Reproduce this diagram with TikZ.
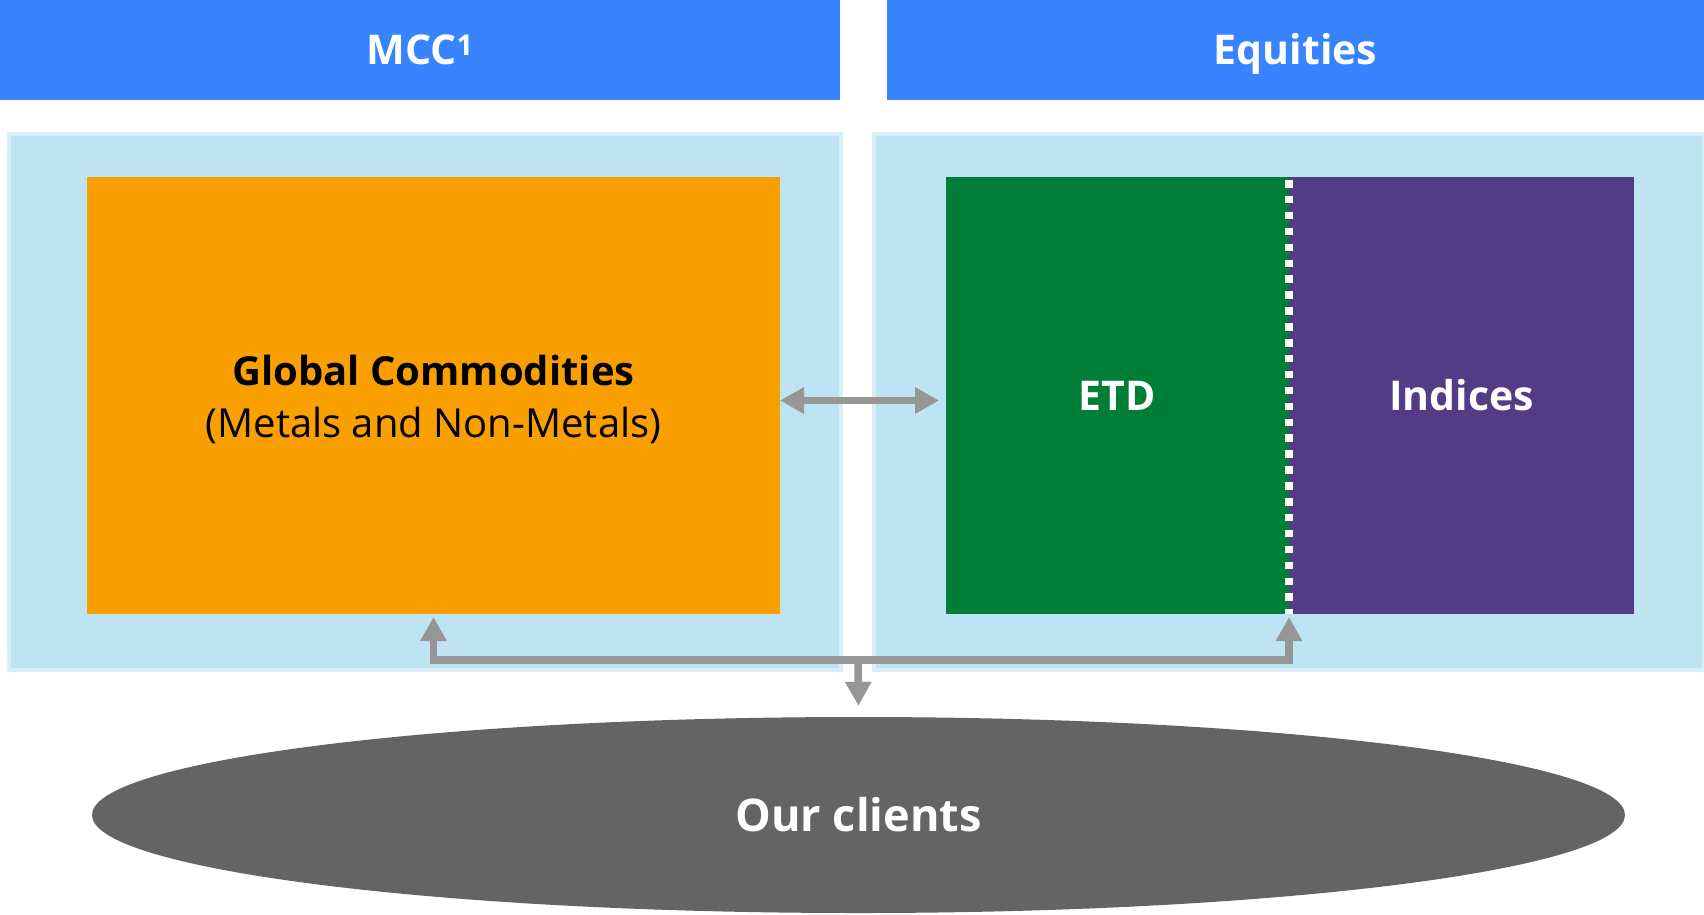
\documentclass[tikz,border=0pt]{standalone}
\usepackage{fontspec}
\setmainfont{Open Sans}
\usetikzlibrary{arrows.meta,shapes.geometric}

\definecolor{hdrblue}{HTML}{3884FF}
\definecolor{panelfill}{HTML}{BEE4F4}
\definecolor{panelrim}{HTML}{D8EEF8}
\definecolor{commod}{HTML}{F9A000}
\definecolor{etdgreen}{HTML}{007E37}
\definecolor{idxpurple}{HTML}{543B85}
\definecolor{arrowgray}{HTML}{969696}
\definecolor{clientgray}{HTML}{646464}

\tikzset{
  box/.style={rectangle, inner sep=0pt, outer sep=0pt},
  header/.style={box, fill=hdrblue, text=white, font=\fontsize{41}{48}\selectfont\bfseries,
    text height=29pt, text depth=0pt},
  panel/.style={box, fill=panelfill, draw=panelrim, line width=4pt},
  unit/.style={box, text=white, font=\fontsize{41}{48}\selectfont\bfseries,
    text height=30.5pt, text depth=-1.5pt},
  flow/.style={draw=arrowgray, line width=7.5pt, line join=miter,
    arrows={-Triangle[length=24pt,width=25pt]}},
  flowboth/.style={flow, arrows={Triangle[length=24pt,width=25pt]-Triangle[length=24pt,width=25pt]}},
  divider/.style={draw=white, line width=8pt, dash pattern=on 7.5pt off 8.4pt, dash phase=-3pt}
}

\begin{document}
\begin{tikzpicture}[x=1pt,y=-1pt]
  \useasboundingbox (0,0) rectangle (1704,914);

  % division headers
  \node[header, minimum width=840pt, minimum height=100pt] (hl) at (420,50) {MCC\textsuperscript{1}};
  \node[header, minimum width=817pt, minimum height=100pt] (hr) at (1295.5,50) {Equities};

  % division panels
  \node[panel, minimum width=832pt, minimum height=536pt] (pl) at (425,402) {};
  \node[panel, minimum width=830pt, minimum height=536pt] (pr) at (1289,402) {};

  % business units
  \node[box, fill=commod, minimum width=693pt, minimum height=437pt] (gc) at (433.5,395.5) {};
  \node[align=center, inner sep=0pt, font=\fontsize{40}{52}\selectfont] (gctext) at (433.5,399.5)
    {\textbf{Global Commodities}\\(Metals and Non-Metals)};
  \node[unit, fill=etdgreen, minimum width=343pt, minimum height=437pt] (etd) at (1117.5,395.5) {ETD};
  \node[unit, fill=idxpurple, minimum width=345pt, minimum height=437pt] (idx) at (1461.5,395.5) {Indices};
  \draw[divider] (etd.north east) -- (etd.south east);

  % clients
  \node[ellipse, fill=clientgray, inner sep=0pt, minimum width=1533pt, minimum height=196pt,
        text=white, font=\fontsize{45}{52}\selectfont\bfseries] (cl) at (858.5,815) {Our clients};

  % connectors
  \draw[flowboth] ([yshift=-5pt]gc.east) -- ([xshift=-7pt,yshift=-5pt]etd.west);
  \coordinate (j) at (858,660);
  \draw[flowboth] ([yshift=-3pt]gc.south) |- (j) -| ([yshift=-3pt]etd.south east);
  \draw[flow] (j) -- ([yshift=11pt]cl.north);
\end{tikzpicture}
\end{document}
